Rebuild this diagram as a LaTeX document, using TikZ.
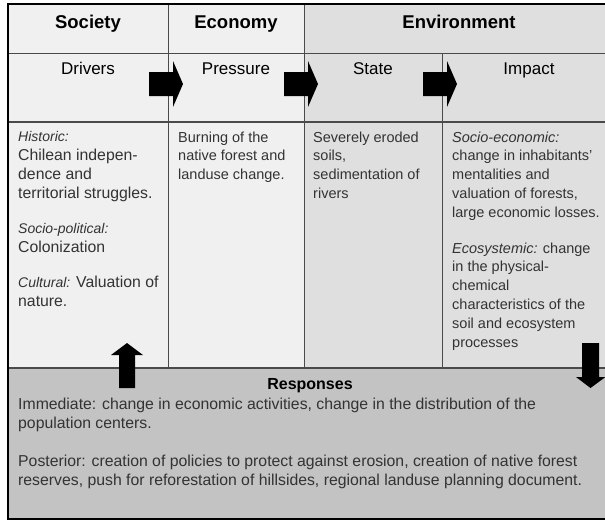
\documentclass[tikz,border=0pt]{standalone}
\usepackage{fontspec}
\setmainfont{Liberation Sans}
\definecolor{lightcol}{HTML}{F0F0F0}
\definecolor{envcol}{HTML}{DFDFDF}
\definecolor{respcol}{HTML}{C3C3C3}
\definecolor{gridcol}{HTML}{4A4A4A}
\definecolor{txtcol}{HTML}{333333}
\newcommand{\lbl}[1]{{\fontsize{14}{18.8}\selectfont\itshape #1}}
\tikzset{
  hdr/.style={font=\fontsize{18.5}{22}\selectfont\bfseries, anchor=base, inner sep=0pt, text=black},
  subhdr/.style={font=\fontsize{17}{20}\selectfont, anchor=base, inner sep=0pt, text=black},
  resphdr/.style={font=\fontsize{16}{19}\selectfont\bfseries, anchor=base, inner sep=0pt, text=black},
  body/.style={font=\fontsize{14.5}{18.8}\selectfont, anchor=base west, inner sep=0pt, align=left, text=txtcol},
  widebody/.style={body, font=\fontsize{15.8}{18.8}\selectfont},
  gridline/.style={draw=gridcol, line width=1pt},
  rarrow/.pic={\fill[black] (0,-12) -- (24,-12) -- (24,-23) -- (34,0) -- (24,23) -- (24,12) -- (0,12) -- cycle;}
}
\begin{document}
\begin{tikzpicture}[x=1pt,y=-1pt]
\useasboundingbox (0,0) rectangle (605,520);
\clip (0,0) rectangle (605,520);
\fill[white] (0,0) rectangle (605,520);
% backgrounds
\fill[lightcol] (8,4) rectangle (304,368);
\fill[envcol] (304,4) rectangle (614,368);
\fill[respcol] (8,368) rectangle (614,519);
% grid
\draw[gridline] (8,53) -- (614,53);
\draw[gridline, line width=1.4pt] (8,122) -- (614,122);
\draw[gridline, line width=1.4pt] (8,368) -- (614,368);
\draw[gridline] (168,4) -- (168,368);
\draw[gridline] (304,4) -- (304,368);
\draw[gridline] (442,53) -- (442,368);
\draw[line width=2.5pt] (8,4) rectangle (614,519);
% headers
\node[hdr] (society) at (88,28) {Society};
\node[hdr] (economy) at (236,28) {Economy};
\node[hdr] (environment) at (459,28) {Environment};
\node[subhdr] (drivers) at (88,74) {Drivers};
\node[subhdr] (pressure) at (236,74) {Pressure};
\node[subhdr] (state) at (373,74) {State};
\node[subhdr] (impact) at (529,74) {Impact};
% block arrows
\pic at (149,84) {rarrow};
\pic at (284,84) {rarrow};
\pic at (423,84) {rarrow};
\fill[black] (119,388) -- (119,355) -- (111,355) -- (127,343) -- (143,355) -- (135,355) -- (135,388) -- cycle;
\fill[black] (582,343) -- (599,343) -- (599,377) -- (605.5,377) -- (590.5,388) -- (576,377) -- (582,377) -- cycle;
% cell texts (anchored at the baseline of their last line)
\node[widebody] (drivertxt) at (18,306) {\lbl{Historic:}\\Chilean indepen-\\dence and\\territorial struggles.\\[16.5pt]
\lbl{Socio-political:}\\Colonization\\[16pt]
\lbl{Cultural:} Valuation of\\nature.};
\node[body] (pressuretxt) at (178,179.6) {Burning of the\\native forest and\\landuse change.};
\node[body] (statetxt) at (313,198.4) {Severely eroded\\soils,\\sedimentation of\\rivers};
\node[body] (impacttxt) at (452,347) {\textit{Socio-economic:}\\change in inhabitants'\\mentalities and\\valuation of forests,\\large economic losses.\\[17pt]
\textit{Ecosystemic:} change\\in the physical-\\chemical\\characteristics of the\\soil and ecosystem\\processes};
% responses
\node[resphdr] (responses) at (310,389) {Responses};
\node[widebody] (resptxt) at (18,485) {Immediate: change in economic activities, change in the distribution of the\\population centers.\\[19pt]
Posterior: creation of policies to protect against erosion, creation of native forest\\reserves, push for reforestation of hillsides, regional landuse planning document.};
\end{tikzpicture}
\end{document}
